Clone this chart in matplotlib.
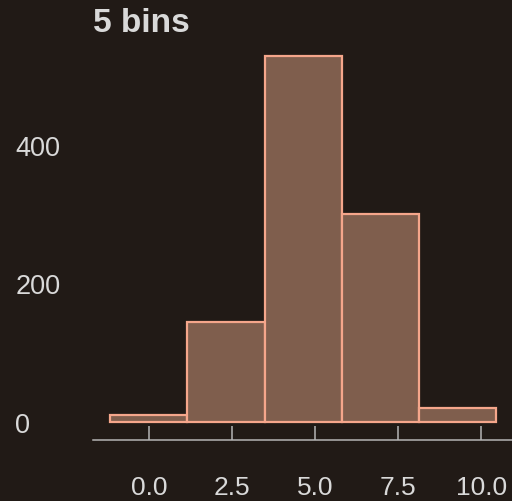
import numpy as np
import matplotlib.pyplot as plt

# datos del histograma
bin_edges = [-1.17, 1.15, 3.48, 5.81, 8.13, 10.45]
counts = [9, 144, 528, 300, 19]
x_ticks = [0.0, 2.5, 5.0, 7.5, 10.0]
y_ticks = [0, 200, 400]

bg = "#211a16"
text_col = "#d9d9d9"

plt.rcParams["font.family"] = ["Liberation Sans", "DejaVu Sans"]

fig = plt.figure(figsize=(5.12, 5.02), dpi=100, facecolor=bg)
ax = fig.add_axes([93 / 512, 61 / 502, 419 / 512, 402 / 502])
ax.set_facecolor(bg)

edges = np.array(bin_edges)
ax.bar(edges[:-1], counts, width=np.diff(edges), align="edge",
       color="#7f5e4d", edgecolor="#f5a68b", linewidth=1.6)

ax.set_xlim(-1.687, 10.93)
ax.set_ylim(-26.7, 553.8)
ax.set_xticks(x_ticks)
ax.set_xticklabels([f"{t:.1f}" for t in x_ticks])
ax.set_yticks(y_ticks)

for s in ["top", "right", "left"]:
    ax.spines[s].set_visible(False)
ax.spines["bottom"].set_color("#b5b5b5")
ax.spines["bottom"].set_linewidth(1.1)

ax.tick_params(axis="x", direction="in", length=10, width=1.1, color="#b5b5b5",
               labelsize=19, labelcolor=text_col, pad=25)
ax.tick_params(axis="y", length=0, labelsize=19.5, labelcolor=text_col, pad=56)
for lab in ax.get_yticklabels():
    lab.set_horizontalalignment("left")

ax.set_title("5 bins", loc="left", fontsize=24, fontweight="bold",
             color=text_col, pad=4.5)

fig.savefig("out.png", dpi=100, facecolor=bg)
